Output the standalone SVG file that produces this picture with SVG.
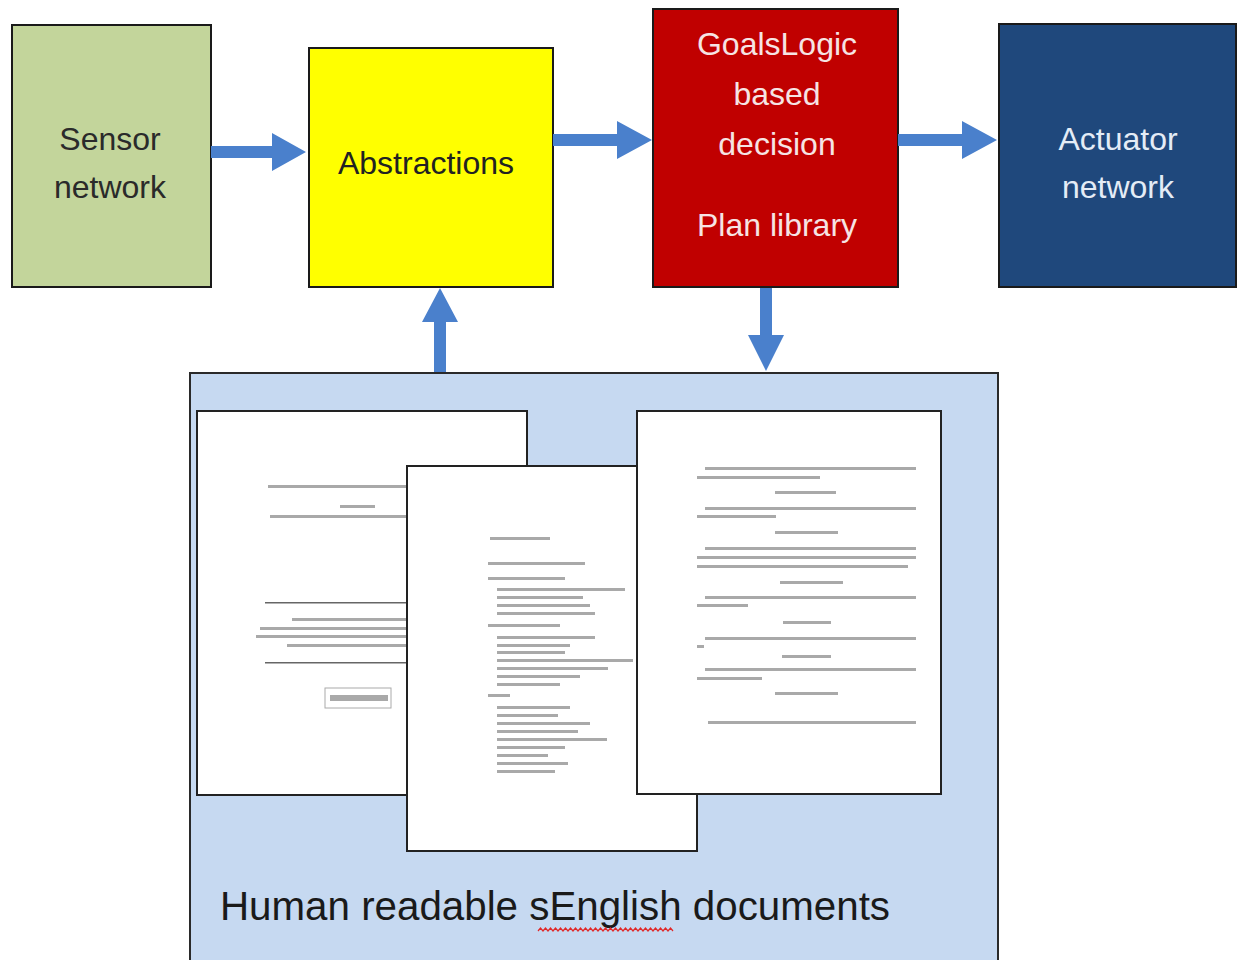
<svg xmlns="http://www.w3.org/2000/svg" width="1238" height="960" viewBox="0 0 1238 960">
<style>
.box{stroke:#1a1a1a;stroke-width:2}
.lbl{font-family:"Liberation Sans",Arial,sans-serif;font-size:32px;text-anchor:middle}
.arrow{fill:#4a80cc}
.page{fill:#ffffff;stroke:#222;stroke-width:2}
.tl{fill:#8c8c8c;opacity:0.75}
</style>
<rect width="1238" height="960" fill="#ffffff"/>

<g id="sensor">
<rect class="box" x="12" y="25" width="199" height="262" fill="#c3d59b"/>
<text class="lbl" x="110" y="150" fill="#2a2a2a">Sensor</text>
<text class="lbl" x="110" y="198" fill="#2a2a2a">network</text>
</g>

<g id="abstractions">
<rect class="box" x="309" y="48" width="244" height="239" fill="#ffff00"/>
<text class="lbl" x="426" y="174" fill="#222">Abstractions</text>
</g>

<g id="decision">
<rect class="box" x="653" y="9" width="245" height="278" fill="#c00000"/>
<text class="lbl" x="777" y="55" fill="#f6e4e4">GoalsLogic</text>
<text class="lbl" x="777" y="105" fill="#f6e4e4">based</text>
<text class="lbl" x="777" y="155" fill="#f6e4e4">decision</text>
<text class="lbl" x="777" y="236" fill="#f6e4e4">Plan library</text>
</g>

<g id="actuator">
<rect class="box" x="999" y="24" width="237" height="263" fill="#1f487c"/>
<text class="lbl" x="1118" y="150" fill="#e4ecf6">Actuator</text>
<text class="lbl" x="1118" y="198" fill="#e4ecf6">network</text>
</g>

<g id="documents">
<rect x="190" y="373" width="808" height="600" fill="#c6d9f1" stroke="#2a2a2a" stroke-width="2"/>

<g id="page1">
<rect class="page" x="197" y="411" width="330" height="384"/>
<rect class="tl" x="268" y="485" width="139" height="3"/>
<rect class="tl" x="340" y="505" width="35" height="3"/>
<rect class="tl" x="270" y="515" width="137" height="3"/>
<rect x="265" y="602" width="142" height="1.5" fill="#666"/>
<rect class="tl" x="292" y="618" width="115" height="3"/>
<rect class="tl" x="260" y="627" width="147" height="3"/>
<rect class="tl" x="256" y="635" width="151" height="3"/>
<rect class="tl" x="287" y="644" width="120" height="3"/>
<rect x="265" y="662" width="142" height="1.5" fill="#666"/>
<rect x="325" y="688" width="66" height="20" fill="none" stroke="#aaa" stroke-width="1"/>
<rect class="tl" x="330" y="695" width="58" height="6"/>
</g>

<g id="page2">
<rect class="page" x="407" y="466" width="290" height="385"/>
<rect class="tl" x="490" y="537" width="60" height="3"/>
<rect class="tl" x="488" y="562" width="97" height="3"/>
<rect class="tl" x="488" y="577" width="77" height="3"/>
<rect class="tl" x="497" y="588" width="128" height="3"/>
<rect class="tl" x="497" y="596" width="86" height="3"/>
<rect class="tl" x="497" y="604" width="93" height="3"/>
<rect class="tl" x="497" y="612" width="98" height="3"/>
<rect class="tl" x="488" y="624" width="72" height="3"/>
<rect class="tl" x="497" y="636" width="98" height="3"/>
<rect class="tl" x="497" y="644" width="73" height="3"/>
<rect class="tl" x="497" y="651" width="68" height="3"/>
<rect class="tl" x="497" y="659" width="136" height="3"/>
<rect class="tl" x="497" y="667" width="111" height="3"/>
<rect class="tl" x="497" y="675" width="83" height="3"/>
<rect class="tl" x="497" y="683" width="63" height="3"/>
<rect class="tl" x="488" y="694" width="22" height="3"/>
<rect class="tl" x="497" y="706" width="73" height="3"/>
<rect class="tl" x="497" y="714" width="61" height="3"/>
<rect class="tl" x="497" y="722" width="93" height="3"/>
<rect class="tl" x="497" y="730" width="81" height="3"/>
<rect class="tl" x="497" y="738" width="110" height="3"/>
<rect class="tl" x="497" y="746" width="68" height="3"/>
<rect class="tl" x="497" y="754" width="51" height="3"/>
<rect class="tl" x="497" y="762" width="71" height="3"/>
<rect class="tl" x="497" y="770" width="58" height="3"/>
</g>

<g id="page3">
<rect class="page" x="637" y="411" width="304" height="383"/>
<rect class="tl" x="705" y="467" width="211" height="3"/>
<rect class="tl" x="697" y="476" width="123" height="3"/>
<rect class="tl" x="775" y="491" width="61" height="3"/>
<rect class="tl" x="705" y="507" width="211" height="3"/>
<rect class="tl" x="697" y="515" width="79" height="3"/>
<rect class="tl" x="775" y="531" width="63" height="3"/>
<rect class="tl" x="705" y="547" width="211" height="3"/>
<rect class="tl" x="697" y="556" width="219" height="3"/>
<rect class="tl" x="697" y="565" width="211" height="3"/>
<rect class="tl" x="780" y="581" width="63" height="3"/>
<rect class="tl" x="705" y="596" width="211" height="3"/>
<rect class="tl" x="697" y="604" width="51" height="3"/>
<rect class="tl" x="783" y="621" width="48" height="3"/>
<rect class="tl" x="705" y="637" width="211" height="3"/>
<rect class="tl" x="697" y="645" width="7" height="3"/>
<rect class="tl" x="782" y="655" width="49" height="3"/>
<rect class="tl" x="705" y="668" width="211" height="3"/>
<rect class="tl" x="697" y="677" width="65" height="3"/>
<rect class="tl" x="775" y="692" width="63" height="3"/>
<rect class="tl" x="708" y="721" width="208" height="3"/>
</g>

<text x="220" y="920" font-family="Liberation Sans, Arial, sans-serif" font-size="40" fill="#1a1a1a" textLength="670" lengthAdjust="spacingAndGlyphs">Human readable sEnglish documents</text>
<path d="M538 931 l2.5 -3 l2.5 3 l2.5 -3 l2.5 3 l2.5 -3 l2.5 3 l2.5 -3 l2.5 3 l2.5 -3 l2.5 3 l2.5 -3 l2.5 3 l2.5 -3 l2.5 3 l2.5 -3 l2.5 3 l2.5 -3 l2.5 3 l2.5 -3 l2.5 3 l2.5 -3 l2.5 3 l2.5 -3 l2.5 3 l2.5 -3 l2.5 3 l2.5 -3 l2.5 3 l2.5 -3 l2.5 3 l2.5 -3 l2.5 3 l2.5 -3 l2.5 3 l2.5 -3 l2.5 3 l2.5 -3 l2.5 3 l2.5 -3 l2.5 3 l2.5 -3 l2.5 3 l2.5 -3 l2.5 3 l2.5 -3 l2.5 3 l2.5 -3 l2.5 3 l2.5 -3 l2.5 3 l2.5 -3 l2.5 3 l2.5 -3 l2.5 3" fill="none" stroke="#e02828" stroke-width="1.2"/>
</g>

<g id="connectors">
<polygon class="arrow" points="211,146 272,146 272,133 306,152 272,171 272,158 211,158"/>
<polygon class="arrow" points="553,134 617,134 617,121 652,140 617,159 617,146 553,146"/>
<polygon class="arrow" points="898,134 962,134 962,121 997,140 962,159 962,146 898,146"/>
<polygon class="arrow" points="434,372 434,322 422,322 440,288 458,322 446,322 446,372"/>
<polygon class="arrow" points="760,288 760,335 748,335 766,371 784,335 772,335 772,288"/>
</g>
</svg>
